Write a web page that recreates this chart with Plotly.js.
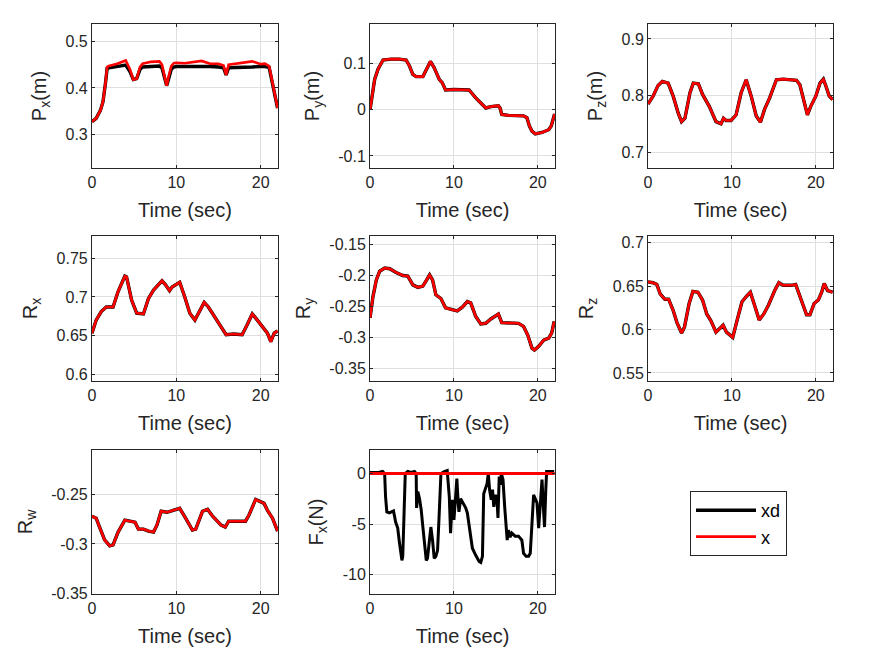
<!DOCTYPE html>
<html>
<head>
<meta charset="utf-8">
<script src="https://cdn.plot.ly/plotly-3.0.1.min.js"></script>
<style>html,body{margin:0;padding:0;background:#fff}#plot{width:875px;height:656px}</style>
</head>
<body>
<div id="plot"></div>
<script>
// ---------- data ----------
const tPx = [0,0.5,1.0,1.3,1.6,1.8,2.0,3.0,4.0,4.5,4.9,5.3,5.7,6.0,7.0,8.0,8.3,8.6,8.85,9.1,9.4,9.7,10,11,12,13,14,15,15.6,15.9,16.2,17,18,19,20,20.5,21,21.3,21.6,22];
const pxX  = [0.328,0.335,0.352,0.370,0.41,0.445,0.447,0.452,0.459,0.44,0.418,0.42,0.445,0.452,0.456,0.457,0.45,0.425,0.405,0.425,0.447,0.453,0.454,0.453,0.455,0.458,0.452,0.452,0.448,0.428,0.45,0.452,0.453,0.457,0.451,0.452,0.447,0.42,0.39,0.357];
const pxXd = [0.328,0.335,0.352,0.370,0.41,0.442,0.443,0.446,0.449,0.435,0.418,0.42,0.44,0.445,0.446,0.447,0.443,0.42,0.405,0.42,0.44,0.445,0.446,0.446,0.446,0.447,0.446,0.445,0.443,0.428,0.443,0.444,0.444,0.445,0.446,0.446,0.444,0.42,0.39,0.357];

const tPy = [0,0.3,0.55,0.95,1.55,2.5,3.5,4.3,4.7,5.1,5.5,6.3,6.9,7.2,7.65,8.25,8.6,9.0,10,11,11.8,12.6,13.2,13.8,14.4,15.3,15.5,15.7,16.5,17.5,18.3,18.7,19.0,19.3,19.7,20.5,21.3,21.6,21.85,22];
const pyX  = [0,0.035,0.066,0.088,0.108,0.11,0.11,0.108,0.095,0.077,0.072,0.072,0.095,0.105,0.091,0.066,0.059,0.043,0.044,0.044,0.043,0.026,0.014,0.004,0.007,0.009,0.004,-0.010,-0.012,-0.013,-0.013,-0.017,-0.035,-0.046,-0.052,-0.049,-0.043,-0.035,-0.015,-0.009];
const pyXd = [0,0.035,0.066,0.088,0.108,0.11,0.11,0.108,0.095,0.077,0.072,0.072,0.095,0.105,0.091,0.066,0.059,0.043,0.044,0.044,0.043,0.026,0.014,0.004,0.007,0.009,0.004,-0.010,-0.012,-0.013,-0.013,-0.017,-0.035,-0.046,-0.052,-0.049,-0.043,-0.035,-0.015,-0.009];

const tPz = [0,0.6,1.2,1.7,2.4,3.0,3.6,4.0,4.4,5.0,5.4,6.0,6.5,7.3,8.1,8.7,9.0,9.3,9.9,10.5,11.1,11.7,12.3,12.9,13.4,13.9,14.5,15.3,16.1,17.7,18.1,18.7,19.0,19.4,20.0,20.5,20.9,21.2,21.6,22];
const pzX  = [0.785,0.799,0.818,0.825,0.822,0.799,0.769,0.754,0.76,0.805,0.822,0.821,0.802,0.781,0.754,0.75,0.76,0.756,0.756,0.766,0.805,0.828,0.799,0.764,0.753,0.776,0.796,0.828,0.829,0.827,0.819,0.781,0.766,0.781,0.799,0.822,0.829,0.817,0.799,0.793];
const pzXd = [0.785,0.799,0.818,0.825,0.822,0.799,0.769,0.754,0.76,0.805,0.822,0.821,0.802,0.781,0.754,0.75,0.76,0.756,0.756,0.766,0.805,0.828,0.799,0.764,0.753,0.776,0.796,0.828,0.829,0.827,0.819,0.781,0.766,0.781,0.799,0.822,0.829,0.817,0.799,0.793];

const tRx = [0,0.5,1.1,1.7,2.5,3.1,3.9,4.1,4.7,5.3,6.1,6.7,7.3,7.9,8.3,8.7,9.2,9.5,10.0,10.4,11.0,11.6,12.2,12.7,13.3,13.8,14.4,15.2,15.9,16.8,17.8,18.4,19.0,19.6,20.2,20.8,21.2,21.6,22];
const rxX  = [0.653,0.670,0.681,0.687,0.687,0.707,0.727,0.726,0.696,0.679,0.678,0.698,0.709,0.716,0.721,0.716,0.708,0.713,0.716,0.719,0.700,0.679,0.670,0.681,0.693,0.687,0.677,0.664,0.651,0.652,0.651,0.664,0.678,0.670,0.662,0.653,0.642,0.653,0.656];
const rxXd = [0.653,0.670,0.681,0.687,0.687,0.707,0.727,0.726,0.696,0.679,0.678,0.698,0.709,0.716,0.721,0.716,0.708,0.713,0.716,0.719,0.700,0.679,0.670,0.681,0.693,0.687,0.677,0.664,0.651,0.652,0.651,0.664,0.678,0.670,0.662,0.653,0.642,0.653,0.656];

const tRy = [0,0.35,0.75,1.15,1.75,2.35,3.1,3.9,4.5,5.1,5.7,6.3,6.7,7.1,7.45,7.85,8.45,9.0,9.8,10.4,11.0,11.6,12.0,12.6,13.2,13.8,14.4,15.3,15.7,16.7,17.7,18.3,18.8,19.3,19.6,20.1,20.7,21.3,21.65,21.95];
const ryX  = [-0.268,-0.234,-0.207,-0.193,-0.188,-0.189,-0.195,-0.200,-0.201,-0.215,-0.219,-0.217,-0.208,-0.199,-0.207,-0.231,-0.237,-0.252,-0.255,-0.257,-0.251,-0.242,-0.244,-0.266,-0.278,-0.277,-0.270,-0.262,-0.276,-0.277,-0.277,-0.282,-0.296,-0.317,-0.320,-0.314,-0.304,-0.301,-0.293,-0.274];
const ryXd = [-0.268,-0.234,-0.207,-0.193,-0.188,-0.189,-0.195,-0.200,-0.201,-0.215,-0.219,-0.217,-0.208,-0.199,-0.207,-0.231,-0.237,-0.252,-0.255,-0.257,-0.251,-0.242,-0.244,-0.266,-0.278,-0.277,-0.270,-0.262,-0.276,-0.277,-0.277,-0.282,-0.296,-0.317,-0.320,-0.314,-0.304,-0.301,-0.293,-0.274];

const tRz = [0,0.6,1.05,1.45,2.0,2.45,3.0,3.45,4.0,4.35,4.9,5.35,5.95,6.5,7.0,7.5,8.1,8.55,8.95,9.35,9.65,10.1,10.6,11.2,11.8,12.2,12.7,13.25,13.8,14.35,15.1,15.6,16.1,17.1,17.6,18.3,18.9,19.3,19.8,20.3,20.7,21.0,21.4,22];
const rzX  = [0.655,0.654,0.652,0.641,0.635,0.635,0.622,0.608,0.596,0.603,0.630,0.644,0.643,0.634,0.618,0.610,0.597,0.601,0.605,0.597,0.595,0.591,0.610,0.632,0.639,0.643,0.628,0.611,0.618,0.628,0.645,0.654,0.651,0.651,0.652,0.634,0.617,0.617,0.630,0.634,0.643,0.653,0.645,0.643];
const rzXd = [0.655,0.654,0.652,0.641,0.635,0.635,0.622,0.608,0.596,0.603,0.630,0.644,0.643,0.634,0.618,0.610,0.597,0.601,0.605,0.597,0.595,0.591,0.610,0.632,0.639,0.643,0.628,0.611,0.618,0.628,0.645,0.654,0.651,0.651,0.652,0.634,0.617,0.617,0.630,0.634,0.643,0.653,0.645,0.643];

const tRw = [0,0.5,0.9,1.5,2.1,2.5,3.1,3.9,4.5,5.1,5.5,6.1,6.7,7.3,7.7,8.2,8.9,9.7,10.4,11.1,11.9,12.3,13.1,13.7,14.3,15.3,15.8,16.2,17.2,18.2,18.6,19.1,19.4,19.9,20.4,20.8,21.4,22];
const rwX  = [-0.272,-0.274,-0.283,-0.296,-0.302,-0.301,-0.288,-0.276,-0.277,-0.278,-0.285,-0.285,-0.287,-0.288,-0.281,-0.267,-0.268,-0.266,-0.264,-0.274,-0.286,-0.285,-0.267,-0.265,-0.272,-0.281,-0.283,-0.277,-0.277,-0.277,-0.271,-0.261,-0.255,-0.257,-0.259,-0.266,-0.274,-0.287];
const rwXd = [-0.272,-0.274,-0.283,-0.296,-0.302,-0.301,-0.288,-0.276,-0.277,-0.278,-0.285,-0.285,-0.287,-0.288,-0.281,-0.267,-0.268,-0.266,-0.264,-0.274,-0.286,-0.285,-0.267,-0.265,-0.272,-0.281,-0.283,-0.277,-0.277,-0.277,-0.271,-0.261,-0.255,-0.257,-0.259,-0.266,-0.274,-0.287];

const tFx = [0,0.5,1.0,1.5,1.74,1.85,2.0,2.3,2.5,2.8,3.05,3.3,3.5,3.8,3.9,4.1,4.2,4.5,4.9,5.3,5.5,5.55,5.7,5.9,6.1,6.3,6.45,6.7,6.85,7.05,7.25,7.45,7.65,7.85,8.05,8.25,8.45,8.85,9.2,9.45,9.6,9.8,10.0,10.2,10.35,10.5,10.6,10.8,11.0,11.4,11.6,11.8,12.0,12.2,12.6,13.0,13.2,13.4,13.55,13.75,13.95,14.1,14.25,14.45,14.6,14.75,14.95,15.15,15.25,15.4,15.55,15.65,15.85,16.05,16.2,16.35,16.5,16.7,16.9,17.3,17.7,18.1,18.3,18.6,18.9,19.1,19.5,19.7,19.9,20.1,20.3,20.5,20.7,20.8,20.95,21.05,21.45,21.95];
const fxXd = [0.1,0.1,0.1,0.2,0,-2.3,-3.8,-3.9,-3.8,-3.7,-4.8,-5.4,-6.8,-8.6,-8.2,-2.3,0,0.2,0.1,0.2,0,-3.4,-1.8,-2.5,-3.6,-5.3,-6.6,-8.6,-8.4,-6.8,-5.3,-6.6,-8.4,-8.2,-7.6,-3.9,0,0.2,0.3,-2.3,-5.9,-2.6,-4.6,-2.3,-0.5,-2.8,-3.8,-2.5,-2.8,-3.4,-3.9,-5.1,-6.6,-7.4,-8.1,-8.7,-8.8,-8.2,-2.0,-1.5,-1.0,0,-1.6,-2.6,-1.6,-3.3,-2.1,-2.8,-4.4,-0.3,-1.1,0,-0.6,-3.3,-5.3,-6.6,-5.6,-6.3,-5.9,-6.2,-6.2,-6.6,-7.9,-8.2,-8.2,-7.9,-2.1,-2.5,-2.9,-5.4,-3.3,-0.6,-3.9,-5.3,-1.6,0.2,0.2,0.2];
const tFxX = [0,22];
const fxX  = [0,0];

const yLabels = ['P<sub>x</sub>(m)','P<sub>y</sub>(m)','P<sub>z</sub>(m)','R<sub>x</sub>','R<sub>y</sub>','R<sub>z</sub>','R<sub>w</sub>','F<sub>x</sub>(N)'];
const xLabel = 'Time (sec)';
const xTickVals = [0,10,20];
const xTickText = ['0','10','20'];
const yTickVals = [[0.3,0.4,0.5],[-0.1,0,0.1],[0.7,0.8,0.9],[0.6,0.65,0.7,0.75],[-0.35,-0.3,-0.25,-0.2,-0.15],[0.55,0.6,0.65,0.7],[-0.35,-0.3,-0.25],[-10,-5,0]];
const yTickText = [['0.3','0.4','0.5'],['-0.1','0','0.1'],['0.7','0.8','0.9'],['0.6','0.65','0.7','0.75'],['-0.35','-0.3','-0.25','-0.2','-0.15'],['0.55','0.6','0.65','0.7'],['-0.35','-0.3','-0.25'],['-10','-5','0']];
const legendNames = ['xd','x'];

// ---------- layout / traces ----------
const yRanges = [[0.2286,0.537],[-0.126,0.186],[0.672,0.9265],[0.591,0.779],[-0.370,-0.1363],[0.5407,0.7078],[-0.3507,-0.205],[-11.93,2.33]];
const xDom = [[0.1051,0.3177],[0.4229,0.6343],[0.7406,0.952]];
const yDom = [[0.7439,0.9634],[0.4192,0.6402],[0.0945,0.314]];

const series = [
  [tPx,pxXd,tPx,pxX],[tPy,pyXd,tPy,pyX],[tPz,pzXd,tPz,pzX],
  [tRx,rxXd,tRx,rxX],[tRy,ryXd,tRy,ryX],[tRz,rzXd,tRz,rzX],
  [tRw,rwXd,tRw,rwX],[tFx,fxXd,tFxX,fxX]
];

const FONT = 'Liberation Sans, Arial, Helvetica, sans-serif';
const TXT = '#262626';
const traces = [];
const layout = {
  width: 875, height: 656,
  margin: {l:0,r:0,t:0,b:0},
  paper_bgcolor: '#fff', plot_bgcolor: '#fff',
  font: {family: FONT, color: TXT, size: 16},
  showlegend: true,
  legend: {x: 690/875, y: 1-491/656, xanchor:'left', yanchor:'top',
           bgcolor:'#fff', bordercolor: TXT, borderwidth: 1,
           font:{family:FONT, size:18, color:'#000'}, itemwidth: 60,
           tracegroupgap: 0},
};

series.forEach((s, i) => {
  const n = i + 1;
  const xa = 'x' + (n === 1 ? '' : n);
  const ya = 'y' + (n === 1 ? '' : n);
  const lw = i === 7 ? 3 : 2.6;
  traces.push({x: s[0], y: s[1], xaxis: xa, yaxis: ya, type:'scatter', mode:'lines',
    name: legendNames[0], showlegend: i === 0,
    line:{color:'#000', width: lw + (i === 7 ? 0 : 0.8)}, hoverinfo:'skip'});
  traces.push({x: s[2], y: s[3], xaxis: xa, yaxis: ya, type:'scatter', mode:'lines',
    name: legendNames[1], showlegend: i === 0,
    line:{color:'#ff0000', width: lw}, hoverinfo:'skip'});
  const r = Math.floor(i / 3), c = i % 3;
  const common = {showline:true, linecolor:TXT, linewidth:1, mirror:'ticks',
    ticks:'inside', ticklen:3, tickcolor:TXT, showgrid:true, gridcolor:'#dfdfdf',
    gridwidth:1, zeroline:false, tickfont:{family:FONT, size:16, color:TXT}};
  layout['xaxis' + (n === 1 ? '' : n)] = Object.assign({}, common, {
    domain: xDom[c], anchor: ya, range:[0,22.05], tickmode:'array',
    tickvals: xTickVals, ticktext: xTickText,
    title:{text:xLabel, font:{family:FONT, size:20, color:TXT}, standoff:12}});
  layout['yaxis' + (n === 1 ? '' : n)] = Object.assign({}, common, {
    domain: yDom[r], anchor: xa, range: yRanges[i], tickmode:'array',
    tickvals: yTickVals[i], ticktext: yTickText[i],
    title:{text:yLabels[i], font:{family:FONT, size:20, color:TXT}, standoff:13}});
});

Plotly.newPlot('plot', traces, layout, {staticPlot:true, displayModeBar:false});
</script>
</body>
</html>
